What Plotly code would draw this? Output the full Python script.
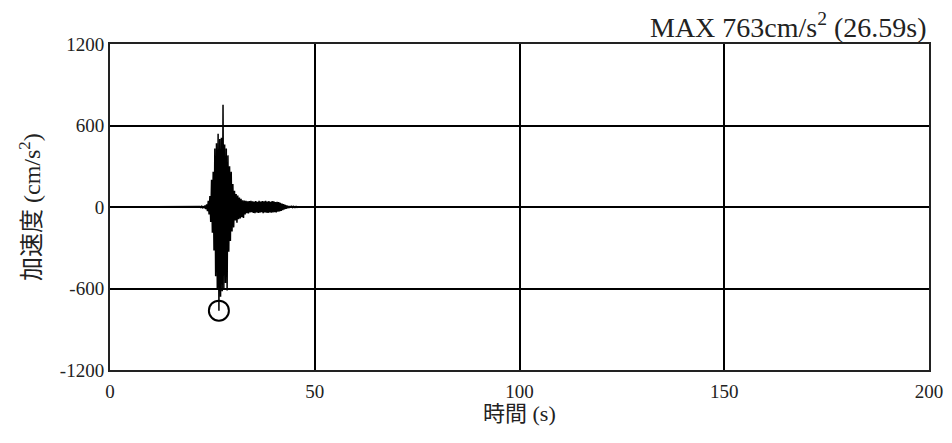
import numpy as np
import plotly.graph_objects as go

# Record sampling (s)
t_start = 22.0
dt = 0.2
# Acceleration samples (cm/s^2), from 22.0 s every 0.2 s
accel = [
    3, -4, 5, -4, 6, -8, 12, -15, 20, -30,
    45, -55, 80, -110, 200, -190, 260, -320, 430, -510,
    470, -600, 540, -763, 500, -660, 510, -620, 753, -600,
    460, -560, 430, -614, 380, -330, 300, -250, 260, -180,
    170, -150, 120, -100, 95, -115, 85, -90, 70, -85,
    60, -75, 50, -80, 48, -55, 45, -45, 42, -48,
    44, -40, 46, -38, 42, -44, 40, -46, 44, -40,
    38, -44, 45, -42, 40, -38, 44, -45, 42, -40,
    46, -42, 40, -44, 43, -40, 38, -42, 44, -40,
    42, -38, 36, -40, 38, -34, 36, -32, 30, -28,
    26, -24, 22, -18, 16, -14, 12, -10, 8, -7,
    6, -5, 5, -4, 4, -3, 3, -3, 3, -2,
    2,
]
times = list(np.round(t_start + dt * np.arange(len(accel)), 2))
# quiet record before and after the shaking
times = [0.0] + times + [200.0]
accel = [0] + accel + [0]

peak_time = 26.59
peak_value = -763
max_abs = 763

x_ticks = [0, 50, 100, 150, 200]
y_ticks = [-1200, -600, 0, 600, 1200]
y_tick_labels = ["-1200", "-600", "0", "600", "1200"]

serif = "Liberation Serif, Noto Sans CJK JP, serif"
ink = "#222"

fig = go.Figure()
fig.add_trace(go.Scatter(
    x=times, y=accel, mode="lines",
    line=dict(color="black", width=1.5),
    hoverinfo="skip", showlegend=False,
))
fig.add_trace(go.Scatter(
    x=[peak_time], y=[peak_value], mode="markers",
    marker=dict(symbol="circle-open", size=20, color="black",
                line=dict(color="black", width=2)),
    showlegend=False,
))

fig.update_layout(
    width=944, height=435,
    margin=dict(l=102, r=23, t=36, b=73),
    paper_bgcolor="white", plot_bgcolor="white",
    font=dict(family=serif, color=ink, size=19),
    xaxis=dict(
        range=[0, 200], tickvals=x_ticks, ticks="", showgrid=True,
        gridcolor="black", gridwidth=2, zeroline=False,
        showline=True, linecolor=ink, linewidth=2, mirror=True,
        tickfont=dict(size=19, family=serif, color=ink),
        ticklabelstandoff=3, automargin=False,
    ),
    yaxis=dict(
        range=[-1200, 1200], tickvals=y_ticks, ticktext=y_tick_labels,
        ticks="", showgrid=True, gridcolor="black", gridwidth=2,
        zeroline=False, showline=True, linecolor=ink, linewidth=2,
        mirror=True, tickfont=dict(size=19, family=serif, color=ink),
        automargin=False,
    ),
    annotations=[
        dict(
            x=1, y=1, xref="paper", yref="paper", xanchor="right", yanchor="bottom",
            yshift=-1,
            text=f"MAX {max_abs}cm/s<sup>2</sup> ({peak_time}s)",
            showarrow=False,
            font=dict(size=28, family=serif, color=ink),
        ),
        dict(
            x=0, y=0.5, xref="paper", yref="paper", xanchor="center", yanchor="middle",
            xshift=-80, textangle=-90,
            text="加速度 (cm/s<sup>2</sup>)", showarrow=False,
            font=dict(size=24, family=serif, color=ink),
        ),
        dict(
            x=0.5, y=0, xref="paper", yref="paper", xanchor="center", yanchor="middle",
            yshift=-43,
            text="時間 (s)", showarrow=False,
            font=dict(size=22, family=serif, color=ink),
        ),
    ],
)

fig.write_html("out.html")
